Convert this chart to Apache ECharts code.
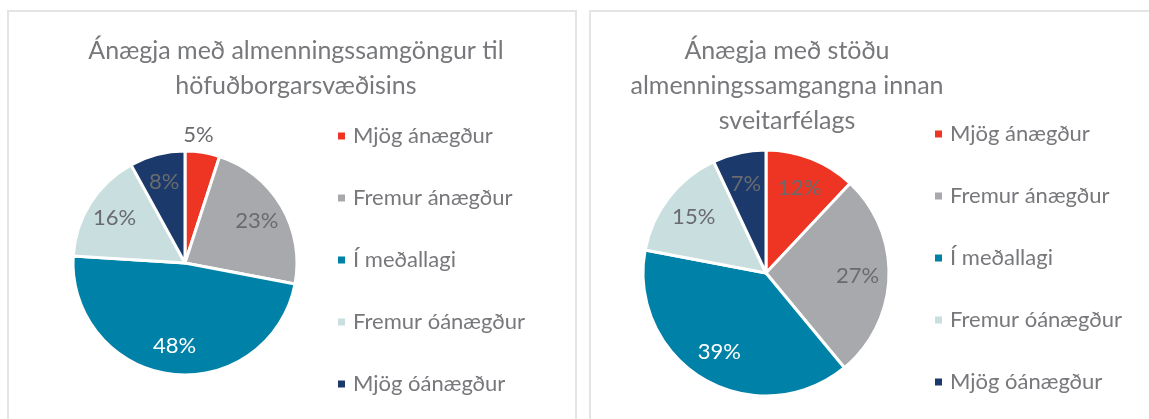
<!DOCTYPE html>
<html>
<head>
<meta charset="utf-8">
<script src="https://cdn.jsdelivr.net/npm/echarts@6/dist/echarts.min.js"></script>
<style>
  html, body { margin: 0; padding: 0; background: #fff; }
  #chart { width: 1149px; height: 419px; }
</style>
</head>
<body>
<div id="chart"></div>
<script>
const categories = ['Mjög ánægður', 'Fremur ánægður', 'Í meðallagi', 'Fremur óánægður', 'Mjög óánægður'];
const toCapitalArea = [5, 23, 48, 16, 8];
const withinMunicipality = [12, 27, 39, 15, 7];
const chartTitles = [
    'Ánægja með almenningssamgöngur til\nhöfuðborgarsvæðisins',
    'Ánægja með stöðu\nalmenningssamgangna innan\nsveitarfélags'
];

const colors = ['#ee3524', '#a7a9ac', '#0081a7', '#c9dedf', '#1b3a6b'];
const labelColors = ['#6a6b6e', '#6a6b6e', '#ffffff', '#6a6b6e', '#6a6b6e'];
const font = 'Lato';
const textGray = '#77787b';

// slices smaller than this get their label outside the pie
const outsideLimit = 6;

function sliceData(values, forLabels) {
    return values.map((v, i) => {
        const outside = v < outsideLimit;
        return {
            value: v,
            name: categories[i],
            itemStyle: forLabels ? { color: 'rgba(0,0,0,0)', borderWidth: 0 } : { color: colors[i] },
            label: forLabels
                ? { show: !outside, color: labelColors[i] }
                : { show: outside, color: labelColors[i] }
        };
    });
}

function pieSeries(values, center, radius) {
    const base = {
        type: 'pie',
        center: center,
        startAngle: 90,
        clockwise: true,
        avoidLabelOverlap: false,
        label: {
            formatter: '{c}%',
            fontSize: 22,
            fontFamily: font
        },
        labelLine: { show: false, length: 6, length2: 0 },
        emphasis: { disabled: true }
    };
    // the pie itself, with labels only for thin outer slices
    const slices = Object.assign({}, base, {
        radius: [0, radius],
        itemStyle: { borderColor: '#ffffff', borderWidth: 3 },
        label: Object.assign({}, base.label, { position: 'outside' }),
        labelLayout: { align: 'center', dx: -10, dy: -12 },
        data: sliceData(values, false)
    });
    // invisible wider pie so inside labels sit near the rim like in the original
    const labels = Object.assign({}, base, {
        radius: [0, Math.round(radius * 1.44)],
        silent: true,
        z: 3,
        label: Object.assign({}, base.label, { position: 'inside' }),
        data: sliceData(values, true)
    });
    return [slices, labels];
}

const chart = echarts.init(document.getElementById('chart'));

const legendBase = {
    orient: 'vertical',
    icon: 'rect',
    itemWidth: 9,
    itemHeight: 9,
    itemGap: 40,
    selectedMode: false,
    data: categories,
    textStyle: { color: textGray, fontSize: 22, fontFamily: font, padding: [0, 0, 0, 2] }
};

const titleBase = {
    textAlign: 'center',
    textStyle: { color: textGray, fontSize: 25, fontWeight: 'normal', fontFamily: font, lineHeight: 35 }
};

chart.setOption({
    backgroundColor: '#ffffff',
    animation: false,
    title: [
        Object.assign({}, titleBase, { text: chartTitles[0], left: 291, top: 28 }),
        Object.assign({}, titleBase, { text: chartTitles[1], left: 782, top: 28 })
    ],
    legend: [
        Object.assign({}, legendBase, { left: 331, top: 120 }),
        Object.assign({}, legendBase, { left: 928, top: 118 })
    ],
    graphic: [
        { type: 'rect', shape: { x: 8, y: 11, width: 568, height: 430 }, style: { fill: 'none', stroke: '#e4e4e4', lineWidth: 2 }, silent: true },
        { type: 'rect', shape: { x: 590, y: 11, width: 580, height: 430 }, style: { fill: 'none', stroke: '#e4e4e4', lineWidth: 2 }, silent: true }
    ],
    series: [
        ...pieSeries(toCapitalArea, [185, 263], 112),
        ...pieSeries(withinMunicipality, [766, 273], 123)
    ]
});
</script>
</body>
</html>
